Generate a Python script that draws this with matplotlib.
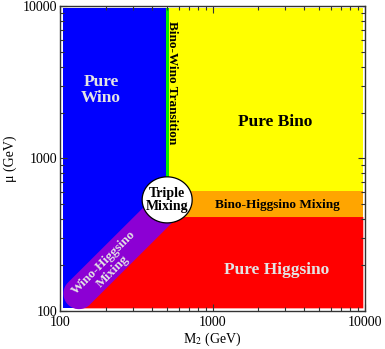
import numpy as np
import matplotlib
matplotlib.use("Agg")
import matplotlib.pyplot as plt
from matplotlib.ticker import LogLocator, NullFormatter, FixedFormatter, FixedLocator

plt.rcParams['font.family'] = ['Liberation Serif', 'DejaVu Serif']
plt.rcParams['mathtext.fontset'] = 'stix'

# region boundaries (GeV)
m2_lo, m2_hi = 104, 9750
mu_lo, mu_hi = 104, 9700
wino_edge = 493          # blue / green boundary
bino_edge = 516          # green / yellow boundary
mix_lo, mix_hi = 413, 612  # orange band in mu
band_start = (133, 130)  # centre of the rounded end
band_end = (520, 505)
band_halfwidth = 0.102   # decades
triple_center = (504, 535)
triple_axes = (0.164, 0.151)  # semi-axes in decades

ticks = [100, 1000, 10000]
tick_labels = ['100', '1000', '10000']

labels = [
    ("Pure\nWino", 186, 2813, 0, 12.5, '#e4e4e4'),
    ("Pure Bino", 2570, 1735, 0, 12.5, 'black'),
    ("Bino-Wino Transition", 545, 3124, -90, 9.5, 'black'),
    ("Triple\nMixing", 504, 535, 0, 10, 'black'),
    ("Bino-Higgsino Mixing", 2650, 495, 0, 9.5, 'black'),
    ("Pure Higgsino", 2650, 186, 0, 12.5, '#e4e4e4'),
    ("Wino-Higgsino\nMixing", 206, 195, 45, 9.5, '#e4e4e4'),
]


def stadium(p0, p1, r, n=40):
    x0, y0 = np.log10(p0)
    x1, y1 = np.log10(p1)
    ang = np.arctan2(y1 - y0, x1 - x0)
    t0 = np.linspace(ang + np.pi / 2, ang + 3 * np.pi / 2, n)
    t1 = np.linspace(ang - np.pi / 2, ang + np.pi / 2, n)
    xs = np.concatenate([x0 + r * np.cos(t0), x1 + r * np.cos(t1)])
    ys = np.concatenate([y0 + r * np.sin(t0), y1 + r * np.sin(t1)])
    return 10 ** xs, 10 ** ys


fig = plt.figure(figsize=(3.85, 3.49), dpi=100)
ax = fig.add_axes([0.156, 0.109, 0.792, 0.874])
ax.set_xscale('log')
ax.set_yscale('log')
ax.set_xlim(100, 10000)
ax.set_ylim(100, 10000)

# pure wino
ax.fill([m2_lo, wino_edge, wino_edge, m2_lo], [mu_lo, mu_lo, mu_hi, mu_hi],
        color='#0000ff', lw=0)
# bino-wino transition
ax.fill([wino_edge, bino_edge, bino_edge, wino_edge], [mix_hi, mix_hi, mu_hi, mu_hi],
        color='#00ee00', lw=0)
# pure bino
ax.fill([bino_edge, m2_hi, m2_hi, bino_edge], [mix_hi, mix_hi, mu_hi, mu_hi],
        color='#ffff00', lw=0)
# bino-higgsino mixing
ax.fill([bino_edge, m2_hi, m2_hi, bino_edge], [mix_lo, mix_lo, mix_hi, mix_hi],
        color='#ffa500', lw=0)
# pure higgsino (its diagonal edge sits under the purple band)
ax.fill([mu_lo * 1.2, mix_lo * 1.2, m2_hi, m2_hi],
        [mu_lo, mix_lo, mix_lo, mu_lo], color='#ff0000', lw=0)
# wino-higgsino band
bx, by = stadium(band_start, band_end, band_halfwidth)
ax.fill(bx, by, color='#8c00d4', lw=0)
# triple mixing
t = np.linspace(0, 2 * np.pi, 200)
ex = 10 ** (np.log10(triple_center[0]) + triple_axes[0] * np.cos(t))
ey = 10 ** (np.log10(triple_center[1]) + triple_axes[1] * np.sin(t))
ax.fill(ex, ey, facecolor='white', edgecolor='black', lw=0.9)

for txt, x, y, rot, size, col in labels:
    ax.text(x, y, txt, rotation=rot, fontsize=size, color=col, fontweight='bold',
            ha='center', va='center', linespacing=1.05, rotation_mode='anchor')

ax.xaxis.set_major_locator(FixedLocator(ticks))
ax.yaxis.set_major_locator(FixedLocator(ticks))
ax.xaxis.set_major_formatter(FixedFormatter(tick_labels))
ax.yaxis.set_major_formatter(FixedFormatter(tick_labels))
ax.xaxis.set_minor_locator(LogLocator(base=10, subs=np.arange(2, 10)))
ax.yaxis.set_minor_locator(LogLocator(base=10, subs=np.arange(2, 10)))
ax.xaxis.set_minor_formatter(NullFormatter())
ax.yaxis.set_minor_formatter(NullFormatter())
ax.tick_params(which='both', direction='in', top=True, right=True,
               labelsize=10, color='#333333', width=0.8)
ax.tick_params(which='major', length=5)
ax.tick_params(which='minor', length=3)
ax.tick_params(axis='x', which='major', pad=3.5)
ax.tick_params(axis='y', which='major', pad=2)
for s in ax.spines.values():
    s.set_color('#333333')
    s.set_linewidth(1)

ax.set_xlabel('M$_2$ (GeV)', fontsize=10, labelpad=1)
ax.set_ylabel('μ (GeV)', fontsize=10, labelpad=4)

fig.savefig('out.png', dpi=100)
